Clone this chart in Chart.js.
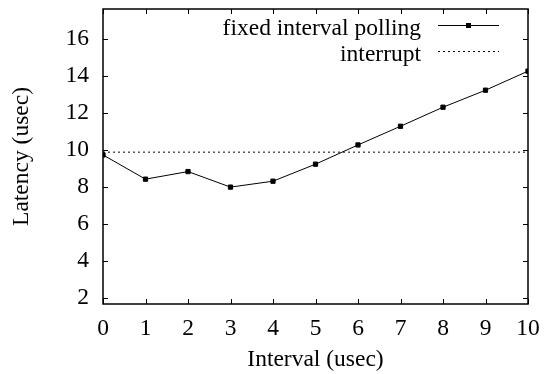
<!DOCTYPE html>
<html>
<head>
<meta charset="utf-8">
<script src="https://cdn.jsdelivr.net/npm/chart.js@4"></script>
<style>
  html, body { margin: 0; padding: 0; background: #ffffff; }
  #wrap { width: 545px; height: 374px; position: relative; }
</style>
</head>
<body>
<div id="wrap"><canvas id="latencyChart"></canvas></div>
<script>
// data
const intervals = [0, 1, 2, 3, 4, 5, 6, 7, 8, 9, 10];
const pollingLatency = [9.71, 8.40, 8.81, 7.97, 8.29, 9.21, 10.25, 11.26, 12.29, 13.21, 14.24];
const interruptLatency = [9.86, 9.86];
const interruptRange = [0, 10];
const yTickValues = [2, 4, 6, 8, 10, 12, 14, 16];
const seriesNames = ['fixed interval polling', 'interrupt'];

const FONT = '"Liberation Serif", "Times New Roman", serif';
const FONT_SIZE = 23.5;

// gnuplot-like frame: full border, inward ticks mirrored on opposite sides
const framePlugin = {
    id: 'frame',
    afterDraw(chart) {
        const ctx = chart.ctx;
        const a = chart.chartArea;
        const xs = chart.scales.x;
        const ys = chart.scales.y;
        const len = 5;
        ctx.save();
        ctx.strokeStyle = '#000';
        ctx.lineWidth = 1;
        ctx.beginPath();
        xs.ticks.forEach(t => {
            const px = Math.round(xs.getPixelForValue(t.value)) + 0.5;
            ctx.moveTo(px, a.bottom); ctx.lineTo(px, a.bottom - len);
            ctx.moveTo(px, a.top); ctx.lineTo(px, a.top + len);
        });
        ys.ticks.forEach(t => {
            const py = Math.round(ys.getPixelForValue(t.value)) + 0.5;
            ctx.moveTo(a.left, py); ctx.lineTo(a.left + len, py);
            ctx.moveTo(a.right, py); ctx.lineTo(a.right - len, py);
        });
        ctx.stroke();
        ctx.lineWidth = 1.5;
        ctx.strokeRect(a.left, a.top, a.right - a.left, a.bottom - a.top);

        // legend, text first then the sample, right aligned like gnuplot
        ctx.font = FONT_SIZE + 'px ' + FONT;
        ctx.fillStyle = '#000';
        ctx.textAlign = 'right';
        ctx.textBaseline = 'alphabetic';
        const textRight = a.right - 107;
        const x0 = a.right - 90, x1 = a.right - 29;
        const lineY = [a.top + 16.5, a.top + 42.5];
        ctx.fillText(seriesNames[0], textRight, a.top + 26);
        ctx.fillText(seriesNames[1], textRight, a.top + 51.5);
        ctx.lineWidth = 1;
        ctx.beginPath();
        ctx.moveTo(x0, lineY[0]); ctx.lineTo(x1, lineY[0]);
        ctx.stroke();
        ctx.fillRect((x0 + x1) / 2 - 2.5, lineY[0] - 2.5, 5, 5);
        ctx.setLineDash([2, 3]);
        ctx.beginPath();
        ctx.moveTo(x0, lineY[1]); ctx.lineTo(x1, lineY[1]);
        ctx.stroke();
        ctx.restore();
    }
};

const ctx = document.getElementById('latencyChart').getContext('2d');
const latencyChart = new Chart(ctx, {
    type: 'line',
    data: {
        datasets: [{
            label: seriesNames[0],
            data: intervals.map((x, i) => ({ x: x, y: pollingLatency[i] })),
            borderColor: '#000',
            backgroundColor: '#000',
            borderWidth: 1,
            pointStyle: 'rect',
            pointRadius: 3,
            pointBorderWidth: 1,
            tension: 0,
            fill: false
        }, {
            label: seriesNames[1],
            data: interruptRange.map((x, i) => ({ x: x, y: interruptLatency[i] })),
            borderColor: '#000',
            borderWidth: 1,
            borderDash: [2, 3],
            pointRadius: 0,
            fill: false
        }]
    },
    plugins: [framePlugin],
    options: {
        responsive: true,
        maintainAspectRatio: false,
        animation: false,
        layout: {
            padding: { top: 9, right: 17, left: 0, bottom: 0 }
        },
        plugins: {
            legend: { display: false },
            tooltip: { enabled: false }
        },
        scales: {
            x: {
                type: 'linear',
                min: 0,
                max: 10,
                ticks: {
                    stepSize: 1,
                    color: '#000',
                    padding: 11,
                    font: { family: FONT, size: FONT_SIZE }
                },
                grid: { display: false, drawTicks: false },
                border: { display: false },
                title: {
                    display: true,
                    text: 'Interval (usec)',
                    color: '#000',
                    font: { family: FONT, size: FONT_SIZE },
                    padding: { top: 2, bottom: 0 }
                },
                afterFit(scale) {
                    scale.height = 70;
                    scale.paddingLeft = 0;
                    scale.paddingRight = 0;
                }
            },
            y: {
                min: 1.65,
                max: 17.6,
                afterBuildTicks(scale) {
                    scale.ticks = yTickValues.map(v => ({ value: v }));
                },
                ticks: {
                    color: '#000',
                    padding: 14,
                    font: { family: FONT, size: FONT_SIZE }
                },
                grid: { display: false, drawTicks: false },
                border: { display: false },
                title: {
                    display: true,
                    text: 'Latency (usec)',
                    color: '#000',
                    font: { family: FONT, size: FONT_SIZE },
                    padding: { top: 8, bottom: 0 }
                },
                afterFit(scale) {
                    scale.width = 103;
                    scale.paddingTop = 0;
                    scale.paddingBottom = 0;
                }
            }
        }
    }
});
</script>
</body>
</html>
